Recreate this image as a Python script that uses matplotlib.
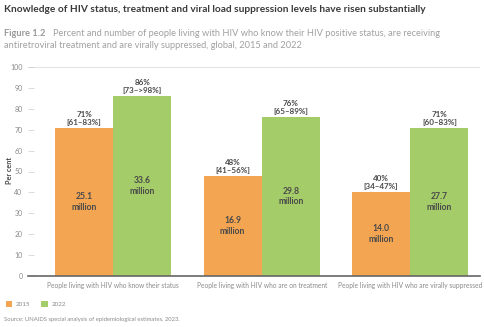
import numpy as np
import matplotlib.pyplot as plt

plt.rcParams['font.family'] = ['Lato', 'DejaVu Sans']

# data
categories = ["People living with HIV who know their status",
              "People living with HIV who are on treatment",
              "People living with HIV who are virally suppressed"]
pct_2015 = [71, 48, 40]
pct_2022 = [86, 76, 71]
range_2015 = ["[61\u201383%]", "[41\u201356%]", "[34\u201347%]"]
range_2022 = ["[73\u2013>98%]", "[65\u201389%]", "[60\u201383%]"]
num_2015 = ["25.1", "16.9", "14.0"]
num_2022 = ["33.6", "29.8", "27.7"]
years = ["2015", "2022"]

c15 = "#F4A551"
c22 = "#A4CC68"
grey = "#8a8a8a"
dark = "#4a4a4a"

fig = plt.figure(figsize=(4.85, 3.27), dpi=100)
ax = fig.add_axes([28 / 485, 1 - 276 / 327, 452 / 485, 209 / 327])

x = np.arange(len(categories))
w = 0.392
b1 = ax.bar(x - w / 2, pct_2015, w, color=c15, label=years[0])
b2 = ax.bar(x + w / 2, pct_2022, w, color=c22, label=years[1])

for bars, vals, rngs, nums in [(b1, pct_2015, range_2015, num_2015),
                               (b2, pct_2022, range_2022, num_2022)]:
    for bar, v, r, n in zip(bars, vals, rngs, nums):
        cx = bar.get_x() + bar.get_width() / 2
        ax.text(cx, v + 1.0, "%d%%\n%s" % (v, r), ha="center", va="bottom",
                fontsize=5.8, color=dark, fontweight="bold", linespacing=1.15)
        ax.text(cx, v / 2, "%s\nmillion" % n, ha="center", va="center",
                fontsize=6.2, color=dark, fontweight="bold", linespacing=1.25)

ax.set_xlim(-0.574, 2.47)
ax.set_ylim(0, 100)
ax.set_yticks(range(0, 101, 10))
ax.tick_params(axis="y", labelsize=5, labelcolor=grey, color="#cccccc",
               length=4, width=0.5, pad=4, direction="in")
ax.set_xticks(x)
ax.set_xticklabels(categories, fontsize=4.8, color=grey)
ax.tick_params(axis="x", length=0, pad=4)

for s in ["top", "right", "left"]:
    ax.spines[s].set_visible(False)
ax.spines["bottom"].set_color("#666666")
ax.spines["bottom"].set_linewidth(1.2)
ax.axhline(100, color="#dddddd", lw=0.6, zorder=0)

fig.text(10 / 485, 1 - 171 / 327, "Per cent", fontsize=5.2, color=dark, fontweight="bold",
         rotation=90, ha="center", va="center")

fig.text(4 / 485, 1 - 9 / 327, "Knowledge of HIV status, treatment and viral load suppression levels have risen substantially",
         fontsize=7.3, fontweight="bold", color="#3a3a3a", va="center")
fig.text(4 / 485, 1 - 34 / 327, "Figure 1.2", fontsize=6.7, fontweight="bold", color="#9a9a9a", va="center")
fig.text(53 / 485, 1 - 34 / 327, "Percent and number of people living with HIV who know their HIV positive status, are receiving",
         fontsize=6.7, color="#a0a0a0", va="center")
fig.text(4 / 485, 1 - 46 / 327, "antiretroviral treatment and are virally suppressed, global, 2015 and 2022",
         fontsize=6.7, color="#a0a0a0", va="center")

fig.legend(handles=[b1, b2], labels=years, loc="center left", bbox_to_anchor=(0, 1 - 304 / 327),
           ncol=2, frameon=False, fontsize=4.5, handlelength=1.0, handleheight=1.0,
           columnspacing=1.8, handletextpad=0.6, labelcolor=grey)
fig.text(4 / 485, 1 - 320 / 327, "Source: UNAIDS special analysis of epidemiological estimates, 2023.",
         fontsize=4.2, color=grey, va="center")

fig.savefig("out.png", dpi=100)
